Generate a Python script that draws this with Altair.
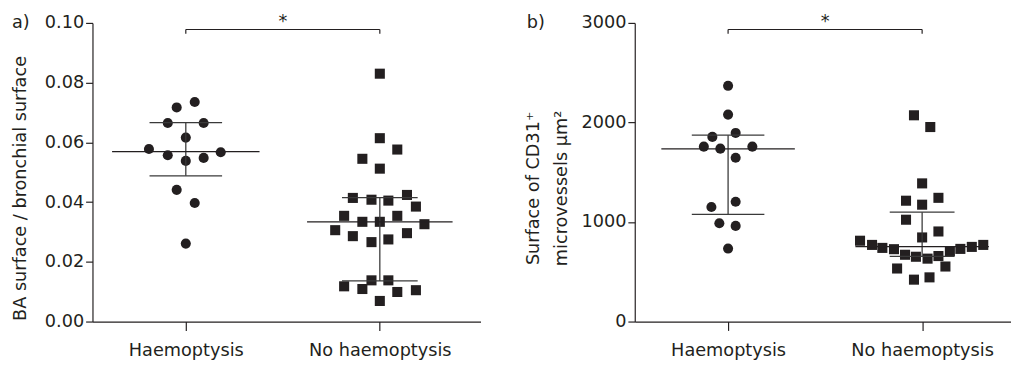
import altair as alt
import pandas as pd

cats = ["Haemoptysis", "No haemoptysis"]
ink = "#231f20"
FONT = "DejaVu Sans"

# ---------- Panel a: BA surface / bronchial surface ----------
a_haem_vals = [0.0735, 0.0717, 0.0665, 0.0665, 0.0616, 0.0578, 0.0557, 0.0567,
               0.0548, 0.0538, 0.0441, 0.0397, 0.0261]
a_haem_off = [0.046, -0.047, -0.093, 0.092, 0.0, -0.19, -0.093, 0.18,
              0.092, 0.0, -0.047, 0.046, 0.0]
a_noh_vals = [0.083, 0.0614, 0.0576, 0.0545, 0.0512, 0.0414, 0.0408, 0.0405,
              0.0424, 0.0385, 0.0354, 0.0334, 0.0334, 0.0354, 0.0326, 0.0306,
              0.0286, 0.0266, 0.0275, 0.0296, 0.0138, 0.0138, 0.0118, 0.0109,
              0.0099, 0.0105, 0.0069]
a_noh_off = [0.0, 0.0, 0.09, -0.09, 0.0, -0.139, -0.043, 0.044,
             0.14, 0.186, -0.184, -0.09, 0.0, 0.09, 0.23, -0.23,
             -0.139, -0.043, 0.044, 0.14, -0.043, 0.044, -0.184, -0.09,
             0.09, 0.186, 0.0]
a_center = [0.0569, 0.0334]
a_upper = [0.0666, 0.0415]
a_lower = [0.0488, 0.0136]
a_main_half = [0.38, 0.375]
a_bar_half = [0.187, 0.195]
a_bracket = [0.0978, 0.0964]
a_star = [0.0973]
a_ticks = [0.0, 0.02, 0.04, 0.06, 0.08, 0.10]

# ---------- Panel b: Surface of CD31+ microvessels ----------
b_haem_vals = [2368, 2079, 1895, 1855, 1757, 1737, 1757, 1645, 1204, 1151, 987, 961, 733]
b_haem_off = [0.0, 0.0, 0.039, -0.081, -0.125, -0.04, 0.125, 0.039, 0.039, -0.086,
              -0.045, 0.039, 0.0]
b_noh_vals = [2072, 1954, 1388, 1214, 1243, 1174, 1023, 905, 845, 812, 770, 740, 727,
              671, 651, 632, 658, 707, 730, 750, 770, 533, 553, 421, 444]
b_noh_off = [-0.042, 0.042, 0.0, -0.083, 0.084, 0.0, -0.083, 0.084, 0.0, -0.32,
             -0.258, -0.205, -0.145, -0.088, -0.032, 0.028, 0.084, 0.143, 0.197,
             0.256, 0.315, -0.129, 0.12, -0.042, 0.038]
b_center = [1734, 753]
b_upper = [1872, 1099]
b_lower = [1076, 655]
b_main_half = [0.344, 0.344]
b_bar_half = [0.187, 0.167]
b_bracket = [2934, 2891]
b_star = [2920]
b_ticks = [0, 1000, 2000, 3000]


def panel(h_vals, h_off, n_vals, n_off, center, upper, lower, main_half, bar_half,
          bracket, star, ticks, ydomain, yfmt, ytitle, label, width, xmax,
          title_x, label_x):
    pts = pd.DataFrame({
        "x": [0 + o for o in h_off] + [1 + o for o in n_off],
        "y": h_vals + n_vals,
        "group": [cats[0]] * len(h_vals) + [cats[1]] * len(n_vals),
    })
    summ = pd.DataFrame({
        "idx": [0, 1],
        "center": center, "upper": upper, "lower": lower,
        "m0": [i - h for i, h in zip([0, 1], main_half)],
        "m1": [i + h for i, h in zip([0, 1], main_half)],
        "b0": [i - h for i, h in zip([0, 1], bar_half)],
        "b1": [i + h for i, h in zip([0, 1], bar_half)],
    })
    brk = pd.DataFrame({"x0": [0], "x1": [1], "yt": [bracket[0]], "yb": [bracket[1]],
                        "xs": [0.5], "ys": star, "t": ["*"]})
    brk_ends = pd.DataFrame({"x": [0, 1], "yt": [bracket[0]] * 2, "yb": [bracket[1]] * 2})

    xscale = alt.Scale(domain=[-0.481, xmax], nice=False, zero=False)
    yscale = alt.Scale(domain=ydomain, nice=False, zero=False)
    xaxis = alt.Axis(values=[0, 1], title=None, grid=False,
                     labelExpr="datum.value == 0 ? 'Haemoptysis' : 'No haemoptysis'",
                     labelPadding=12, tickSize=9)
    yaxis = alt.Axis(values=ticks, format=yfmt, title=ytitle, grid=False,
                     titleAngle=-90, titleX=title_x, titleY=168, titleAlign="center",
                     titleBaseline="middle", titleFontWeight="normal",
                     titleFontSize=18, titleLineHeight=29, labelPadding=2)

    points = alt.Chart(pts).mark_point(filled=True, size=105, opacity=1, color=ink).encode(
        x=alt.X("x:Q", scale=xscale, axis=xaxis),
        y=alt.Y("y:Q", scale=yscale, axis=yaxis),
        shape=alt.Shape("group:N", scale=alt.Scale(domain=cats, range=["circle", "square"]),
                        legend=None),
    )
    base = alt.Chart(summ)
    main = base.mark_rule(color=ink, strokeWidth=1.3).encode(
        x=alt.X("m0:Q", scale=xscale), x2="m1:Q", y=alt.Y("center:Q", scale=yscale))
    up = base.mark_rule(color="#3a3a3a", strokeWidth=1.3).encode(
        x=alt.X("b0:Q", scale=xscale), x2="b1:Q", y=alt.Y("upper:Q", scale=yscale))
    lo = base.mark_rule(color="#3a3a3a", strokeWidth=1.3).encode(
        x=alt.X("b0:Q", scale=xscale), x2="b1:Q", y=alt.Y("lower:Q", scale=yscale))
    vert = base.mark_rule(color="#3a3a3a", strokeWidth=1.3).encode(
        x=alt.X("idx:Q", scale=xscale), y=alt.Y("lower:Q", scale=yscale), y2="upper:Q")
    bline = alt.Chart(brk).mark_rule(color=ink, strokeWidth=1.2).encode(
        x=alt.X("x0:Q", scale=xscale), x2="x1:Q", y=alt.Y("yt:Q", scale=yscale))
    bend = alt.Chart(brk_ends).mark_rule(color=ink, strokeWidth=1.2).encode(
        x=alt.X("x:Q", scale=xscale), y=alt.Y("yt:Q", scale=yscale), y2="yb:Q")
    star_t = alt.Chart(brk).mark_text(fontSize=18, font=FONT, color=ink,
                                      baseline="bottom").encode(
        x=alt.X("xs:Q", scale=xscale), y=alt.Y("ys:Q", scale=yscale), text="t:N")
    lab = alt.Chart(pd.DataFrame({"t": [label]})).mark_text(
        fontSize=18, font=FONT, color=ink, align="left", baseline="middle").encode(
        x=alt.value(label_x), y=alt.value(0), text="t:N")

    return alt.layer(points, up, lo, vert, main, bline, bend, star_t, lab).properties(
        width=width, height=304,
    )


pa = panel(a_haem_vals, a_haem_off, a_noh_vals, a_noh_off, a_center, a_upper, a_lower,
           a_main_half, a_bar_half, a_bracket, a_star, a_ticks, [0, 0.1], ".2f",
           "BA surface / bronchial surface", "a)", 395, 1.519, -73, -82)
pb = panel(b_haem_vals, b_haem_off, b_noh_vals, b_noh_off, b_center, b_upper, b_lower,
           b_main_half, b_bar_half, b_bracket, b_star, b_ticks, [0, 3000], "d",
           ["Surface of CD31\u207a", "microvessels \u00b5m\u00b2"], "b)", 383, 1.458,
           -103, -110)

chart = alt.hconcat(pa, pb, spacing=157, bounds="flush").properties(
    padding={"left": 4, "top": 2, "right": 0, "bottom": 0}
).configure_view(stroke=None).configure_axis(
    domainColor=ink, tickColor=ink, tickSize=7, domainWidth=1.2, tickWidth=1.2,
    labelFont=FONT, labelFontSize=18, labelColor=ink,
    titleFont=FONT, titleColor=ink,
)

chart.save("out.html", embed_options={"renderer": "svg", "actions": False})
